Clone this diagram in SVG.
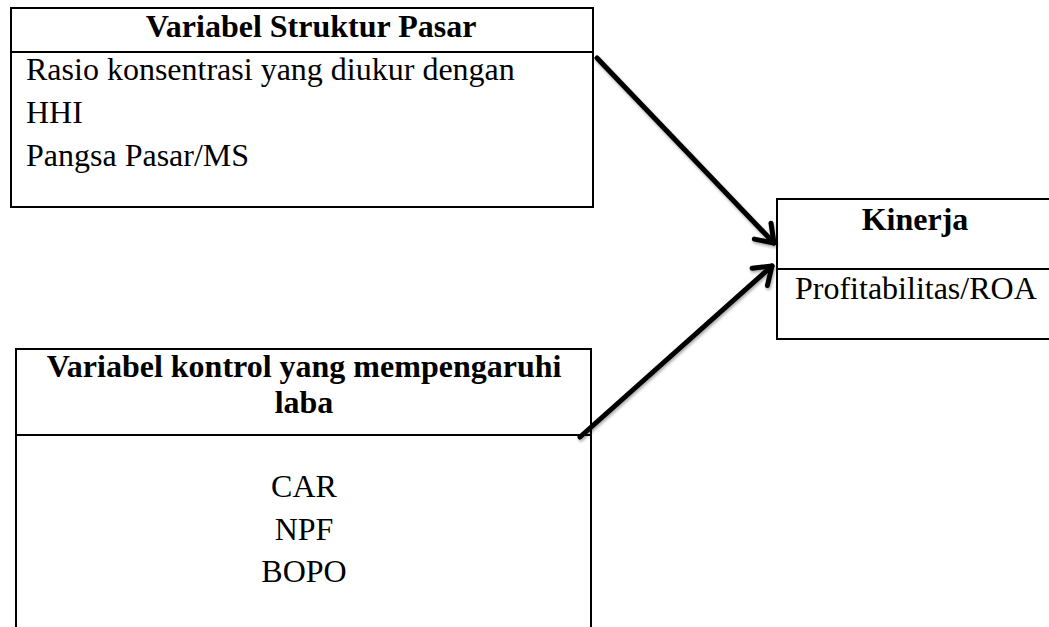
<svg xmlns="http://www.w3.org/2000/svg" width="1049" height="627" viewBox="0 0 1049 627">
  <style>
    .box { fill: #ffffff; stroke: #000000; stroke-width: 2; }
    .div { stroke: #000000; stroke-width: 2; }
    .t { font-family: "Liberation Serif", "Times New Roman", serif; font-size: 32px; fill: #000000; }
    .b { font-weight: bold; }
    .c { text-anchor: middle; }
    .arrow { fill: none; stroke: #000000; stroke-width: 5; stroke-linecap: round; marker-end: url(#head); filter: url(#shadow); }
  </style>
  <defs>
    <marker id="head" markerUnits="userSpaceOnUse" markerWidth="40" markerHeight="40" refX="20" refY="20" orient="auto" viewBox="0 0 40 40">
      <path d="M3.6,8.5 L20,20 L3.6,31.5" fill="none" stroke="#000000" stroke-width="5" stroke-linecap="round" stroke-linejoin="round"/>
    </marker>
    <filter id="shadow" x="-20%" y="-20%" width="140%" height="140%">
      <feDropShadow dx="1" dy="2" stdDeviation="1.5" flood-color="#000000" flood-opacity="0.35"/>
    </filter>
  </defs>
  <rect width="1049" height="627" fill="#ffffff"/>

  <g id="struktur-pasar">
    <rect class="box" x="11" y="8" width="582" height="199"/>
    <line class="div" x1="11" y1="52" x2="593" y2="52"/>
    <text class="t b c" x="311" y="37">Variabel Struktur Pasar</text>
    <text class="t" x="26" y="80">Rasio konsentrasi yang diukur dengan</text>
    <text class="t" x="26" y="123">HHI</text>
    <text class="t" x="26" y="166">Pangsa Pasar/MS</text>
  </g>

  <g id="kinerja">
    <rect class="box" x="777" y="199" width="276" height="140"/>
    <line class="div" x1="777" y1="269" x2="1053" y2="269"/>
    <text class="t b c" x="915" y="230">Kinerja</text>
    <text class="t" x="795" y="299">Profitabilitas/ROA</text>
  </g>

  <g id="variabel-kontrol">
    <rect class="box" x="16" y="349" width="575" height="285"/>
    <line class="div" x1="16" y1="435" x2="591" y2="435"/>
    <text class="t b c" x="304" y="377">Variabel kontrol yang mempengaruhi</text>
    <text class="t b c" x="304" y="413">laba</text>
    <text class="t c" x="304" y="497">CAR</text>
    <text class="t c" x="304" y="540">NPF</text>
    <text class="t c" x="304" y="582">BOPO</text>
  </g>

  <g id="connectors">
    <line class="arrow" x1="597" y1="58" x2="774" y2="243"/>
    <line class="arrow" x1="580" y1="437" x2="772" y2="266"/>
  </g>
</svg>
